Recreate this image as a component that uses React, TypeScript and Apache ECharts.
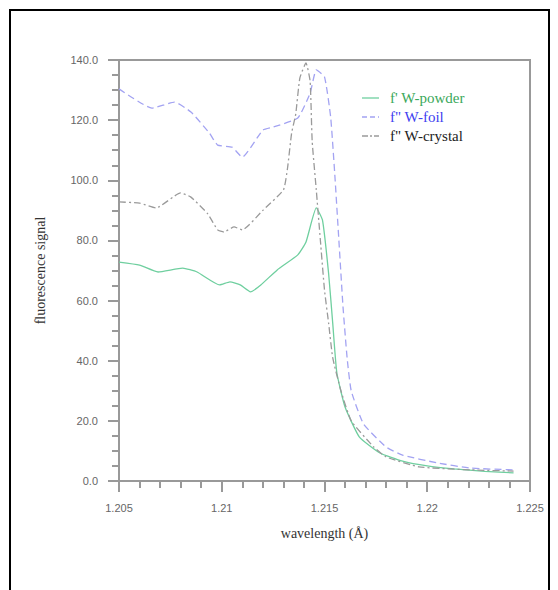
import React, { useEffect, useRef } from "react";
import * as echarts from "echarts";

const seriesNames = ["f' W-powder", 'f" W-foil', 'f" W-crystal'];

const powderX = [1.205, 1.206, 1.2069, 1.2081, 1.2088, 1.2099, 1.2104, 1.2109, 1.2114, 1.2119, 1.2127, 1.2137, 1.2141, 1.2146, 1.2149, 1.2152, 1.2154, 1.2156, 1.216, 1.2167, 1.2177, 1.2188, 1.22, 1.2213, 1.2228, 1.2242];
const powderY = [72.8, 71.8, 69.5, 70.8, 69.5, 65.2, 66.2, 65.2, 62.9, 65.2, 70.2, 75.2, 79.5, 90.8, 86.8, 69, 52.5, 36, 24.6, 14.6, 9.3, 6.6, 5, 4, 3.2, 2.7];

const foilX = [1.205, 1.2066, 1.2077, 1.2085, 1.2094, 1.2098, 1.2105, 1.211, 1.212, 1.2125, 1.2137, 1.2143, 1.2146, 1.215, 1.2153, 1.2155, 1.2157, 1.2159, 1.2161, 1.2163, 1.2169, 1.218, 1.2188, 1.2205, 1.2221, 1.2242];
const foilY = [130.4, 124, 126, 122.7, 115.7, 111.7, 111, 107.7, 116.7, 117.7, 120.7, 129, 136.7, 134.4, 121, 102, 80, 58, 41, 30, 19, 11.3, 8.6, 6, 4.3, 3.7];

const crystalX = [1.205, 1.206, 1.2068, 1.208, 1.2085, 1.2093, 1.2098, 1.2101, 1.2106, 1.211, 1.212, 1.213, 1.2132, 1.2134, 1.2136, 1.2138, 1.2141, 1.2143, 1.2144, 1.2146, 1.2148, 1.215, 1.2152, 1.2154, 1.2158, 1.2163, 1.2174, 1.218, 1.2196, 1.2221, 1.2242];
const crystalY = [92.8, 92.4, 90.8, 95.8, 94.4, 89, 83.5, 82.8, 84.5, 83.5, 90, 96.8, 104, 115.7, 122, 134, 139, 133, 113, 96.8, 80, 63.5, 52.5, 41, 30, 20, 11.3, 8, 4.7, 3.7, 3.3];

const xTicks = [1.205, 1.21, 1.215, 1.22, 1.225];

const lineColors = ["#6fcf9f", "#a3a3f2", "#9a9a9a"];
const textColors = ["#3aa85a", "#4040f0", "#222222"];
const dashTypes: any[] = ["solid", [7, 4], [7, 3, 2, 3]];

const pairs = (xs: number[], ys: number[]) => xs.map((x, i) => [x, ys[i]]);

export default function App() {
  const ref = useRef<HTMLDivElement>(null);
  useEffect(() => {
    if (!ref.current) return;
    const chart = echarts.init(ref.current, null, { renderer: "svg" });
    const datas = [pairs(powderX, powderY), pairs(foilX, foilY), pairs(crystalX, crystalY)];
    const legendTop = 98;
    const legendGap = 19;
    const legendGraphics: any[] = [];
    seriesNames.forEach((n, i) => {
      const y = legendTop + i * legendGap;
      legendGraphics.push({
        type: "line",
        shape: { x1: 362, y1: y, x2: 379, y2: y },
        style: { stroke: lineColors[i], lineWidth: 1.3, lineDash: i === 0 ? null : i === 1 ? [5, 3] : [6, 2, 2, 2] },
      });
      legendGraphics.push({
        type: "text",
        x: 390,
        y: y,
        style: { text: n, fill: textColors[i], font: "15px 'Liberation Serif', serif", verticalAlign: "middle", align: "left" },
      });
    });
    chart.setOption({
      animation: false,
      backgroundColor: "#ffffff",
      grid: { left: 119, right: 28, top: 60, bottom: 109, show: true, borderColor: "#999", borderWidth: 2 },
      xAxis: {
        type: "value",
        min: 1.205,
        max: 1.225,
        interval: 0.005,
        name: "wavelength (Å)",
        nameLocation: "middle",
        nameGap: 45,
        nameTextStyle: { fontFamily: "'Liberation Serif', serif", fontSize: 14, color: "#333" },
        axisLine: { lineStyle: { color: "#999", width: 2 } },
        axisTick: { show: true, inside: false, length: 11, lineStyle: { color: "#999", width: 2 } },
        minorTick: { show: true, splitNumber: 5, length: 7, lineStyle: { color: "#999", width: 2 } },
        splitLine: { show: false },
        axisLabel: {
          margin: 21,
          color: "#666",
          fontFamily: "'Liberation Sans', sans-serif",
          fontSize: 11,
          formatter: (v: number) => {
            const t = xTicks.find((k) => Math.abs(k - v) < 1e-9);
            return t !== undefined ? String(Number(t.toFixed(3))) : "";
          },
        },
      },
      yAxis: {
        type: "value",
        min: 0,
        max: 140,
        interval: 20,
        name: "fluorescence signal",
        nameLocation: "middle",
        nameRotate: 90,
        nameGap: 72,
        nameTextStyle: { fontFamily: "'Liberation Serif', serif", fontSize: 14, color: "#333" },
        axisLine: { show: true, lineStyle: { color: "#999", width: 2 } },
        axisTick: { show: true, inside: false, length: 11, lineStyle: { color: "#999", width: 2 } },
        minorTick: { show: true, splitNumber: 4, length: 7, lineStyle: { color: "#999", width: 2 } },
        splitLine: { show: false },
        axisLabel: {
          margin: 21,
          color: "#666",
          fontFamily: "'Liberation Sans', sans-serif",
          fontSize: 11,
          formatter: (v: number) => v.toFixed(1),
        },
      },
      series: datas.map((d, i) => ({
        name: seriesNames[i],
        type: "line",
        data: d,
        showSymbol: false,
        smooth: 0.15,
        lineStyle: { color: lineColors[i], width: 1.3, type: dashTypes[i] },
      })),
      graphic: [
        {
          type: "rect",
          shape: { x: 10, y: 10, width: 539, height: 620 },
          style: { fill: "none", stroke: "#000", lineWidth: 2 },
          silent: true,
        },
        ...legendGraphics,
      ],
    });
    return () => chart.dispose();
  }, []);
  return <div ref={ref} style={{ position: "fixed", left: 0, top: 0, width: 558, height: 590 }} />;
}
